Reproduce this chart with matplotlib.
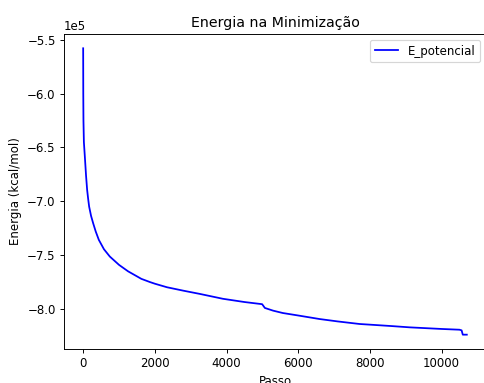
import matplotlib
matplotlib.use("Agg")
import matplotlib.pyplot as plt
import numpy as np

# Passo / energia potencial (kcal/mol)
passo = [0, 3, 8, 20, 47, 80, 111, 140, 167, 220, 279, 350, 437, 580,
         744, 1000, 1253, 1624, 1866, 2000, 2340, 2800, 3260, 3900, 4500,
         4994, 5070, 5300, 5570, 6000, 6600, 7100, 7716, 8000, 8600, 9109,
         10000, 10501, 10560, 10593, 10705]
e_potencial = [-558000, -600000, -625000, -645000, -658700, -676000, -689500,
               -698000, -705000, -713500, -720400, -728000, -735800, -744500,
               -751300, -759000, -765000, -772000, -775000, -776500, -779800,
               -783000, -786000, -790500, -793500, -795500, -799000, -801500,
               -803700, -806000, -809300, -811500, -813900, -814500, -815800,
               -817000, -818500, -819200, -819800, -823800, -823800]

fig = plt.figure(figsize=(484 / 85, 383 / 85), dpi=85)
ax = fig.add_axes([0.1322, 0.0888, 0.8719, 0.8225])

ax.plot(passo, e_potencial, color="blue", label="E_potencial")
ax.ticklabel_format(axis="y", style="sci", scilimits=(5, 5))

ax.set_title("Energia na Minimização")
ax.set_xlabel("Passo")
ax.set_ylabel("Energia (kcal/mol)")
ax.legend(loc="upper right")

fig.savefig("out.png", dpi=85)
